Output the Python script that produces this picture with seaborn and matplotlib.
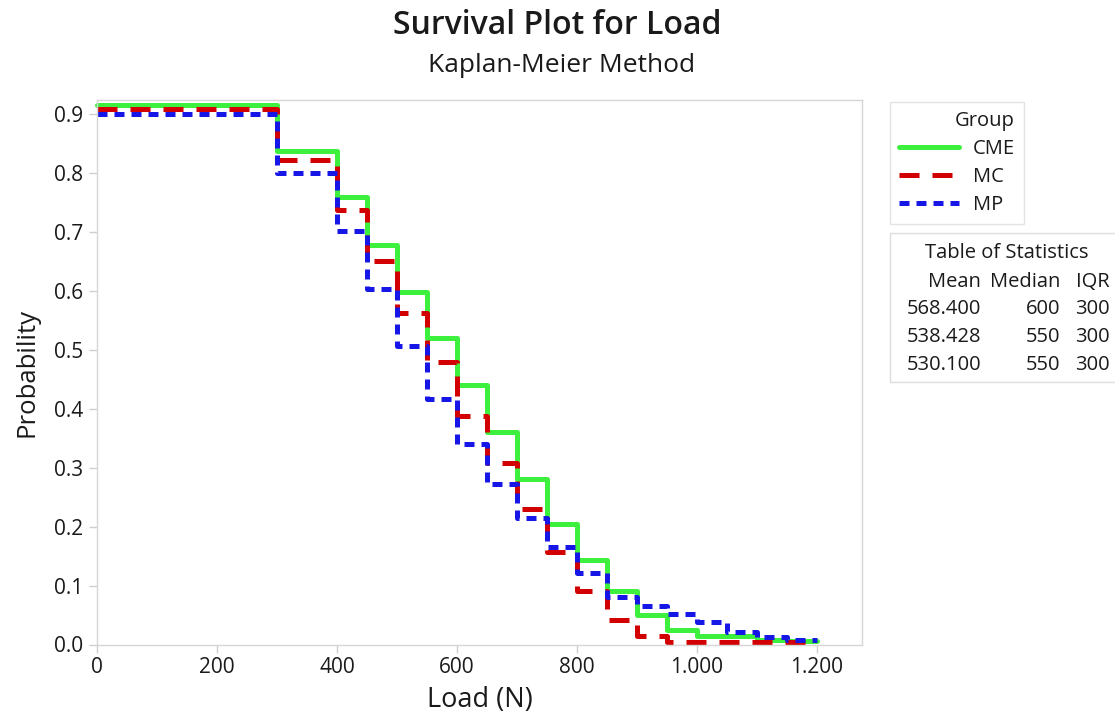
import pandas as pd
import seaborn as sns
import matplotlib.pyplot as plt
from matplotlib.patches import Rectangle

# Kaplan-Meier survival estimates (steps-post)
load = [0, 300, 400, 450, 500, 550, 600, 650, 700, 750, 800, 850, 900, 950,
        1000, 1050, 1100, 1150, 1200]
cme = [0.915, 0.837, 0.760, 0.678, 0.599, 0.520, 0.440, 0.360, 0.281, 0.205,
       0.144, 0.090, 0.050, 0.025, 0.014, 0.014, 0.008, 0.006, 0.006]
mc = [0.909, 0.822, 0.738, 0.650, 0.563, 0.479, 0.387, 0.308, 0.230, 0.157,
      0.090, 0.042, 0.015, 0.004, 0.004, 0.004, 0.004, 0.004, 0.004]
mp = [0.900, 0.800, 0.702, 0.604, 0.507, 0.417, 0.340, 0.272, 0.215, 0.166,
      0.122, 0.081, 0.066, 0.052, 0.039, 0.022, 0.012, 0.007, 0.007]
groups = ['CME', 'MC', 'MP']

# Table of statistics
stats_header = ['Mean', 'Median', 'IQR']
stats_mean = ['568.400', '538.428', '530.100']
stats_median = ['600', '550', '550']
stats_iqr = ['300', '300', '300']

x_ticks = [0, 200, 400, 600, 800, 1000, 1200]
x_tick_labels = ['0', '200', '400', '600', '800', '1.000', '1.200']
y_ticks = [0.0, 0.1, 0.2, 0.3, 0.4, 0.5, 0.6, 0.7, 0.8, 0.9]
y_tick_labels = ['0.0', '0.1', '0.2', '0.3', '0.4', '0.5', '0.6', '0.7', '0.8', '0.9']

colors = {'CME': '#3ef03e', 'MC': '#d20000', 'MP': '#1616e6'}
dashes = {'CME': '', 'MC': (4, 2.6), 'MP': (2, 1.4)}

df = pd.DataFrame({
    'Load': load * 3,
    'Probability': cme + mc + mp,
    'Group': [g for g in groups for _ in load],
})

sns.set_style('white')
plt.rcParams['font.family'] = ['Open Sans', 'DejaVu Sans']

W, H = 1115, 722
fig = plt.figure(figsize=(W / 100, H / 100), dpi=100)
ax = fig.add_axes([97 / W, 1 - 644.5 / H, 765 / W, 544.5 / H])

sns.lineplot(data=df, x='Load', y='Probability', hue='Group', style='Group',
             palette=colors, dashes=dashes, drawstyle='steps-post',
             linewidth=3.6, estimator=None, legend=False, ax=ax)
for ln in ax.get_lines():
    ln.set_clip_on(False)

ax.set_xlim(0, 1275)
ax.set_ylim(0, 0.924)
ax.set_xticks(x_ticks)
ax.set_xticklabels(x_tick_labels)
ax.set_yticks(y_ticks)
ax.set_yticklabels(y_tick_labels)
ax.tick_params(axis='both', labelsize=15, colors='#cfcfcf', labelcolor='#1a1a1a',
               length=6, width=1, direction='out', bottom=True, left=True)
ax.tick_params(axis='y', pad=4)
ax.tick_params(axis='x', pad=3)
for sp in ax.spines.values():
    sp.set_color('#d6d6d6')
    sp.set_linewidth(1)
ax.set_xlabel('Load (N)', fontsize=19.5, color='#1a1a1a', labelpad=6)
ax.set_ylabel('Probability', fontsize=18.5, color='#1a1a1a', labelpad=10)

fig.text(557 / W, 1 - 25 / H, 'Survival Plot for Load', ha='center', va='center',
         fontsize=23, fontweight='semibold', color='#1a1a1a')
fig.text(562 / W, 1 - 65 / H, 'Kaplan-Meier Method', ha='center', va='center',
         fontsize=19, color='#1a1a1a')

leg = ax.legend(handles=ax.get_lines()[:3], labels=groups, title='Group',
                loc='upper left', bbox_to_anchor=(890 / W, 1 - 102 / H),
                bbox_transform=fig.transFigure, frameon=True, fancybox=False,
                edgecolor='#dddddd', fontsize=14.5, title_fontsize=14.5,
                handlelength=3.0, handletextpad=0.65, labelspacing=0.4,
                borderaxespad=0, borderpad=0.45, alignment='right')
leg.get_frame().set_linewidth(1)
for t in leg.get_texts() + [leg.get_title()]:
    t.set_color('#1a1a1a')

# Table of statistics box
fig.patches.append(Rectangle((890 / W, 1 - 382 / H), 240 / W, 149 / H,
                             transform=fig.transFigure, fill=False,
                             edgecolor='#dddddd', linewidth=1))
fig.text(1007 / W, 1 - 253 / H, 'Table of Statistics', ha='center', va='center',
         fontsize=14.5, color='#1a1a1a')
col_x = [981, 1060, 1110]
row_y = [282, 309, 337, 365]
for cx, h in zip(col_x, stats_header):
    fig.text(cx / W, 1 - row_y[0] / H, h, ha='right', va='center',
             fontsize=14.5, color='#1a1a1a')
for i in range(3):
    for cx, col in zip(col_x, [stats_mean, stats_median, stats_iqr]):
        fig.text(cx / W, 1 - row_y[i + 1] / H, col[i], ha='right', va='center',
                 fontsize=14.5, color='#1a1a1a')

fig.savefig('out.png', dpi=100)
